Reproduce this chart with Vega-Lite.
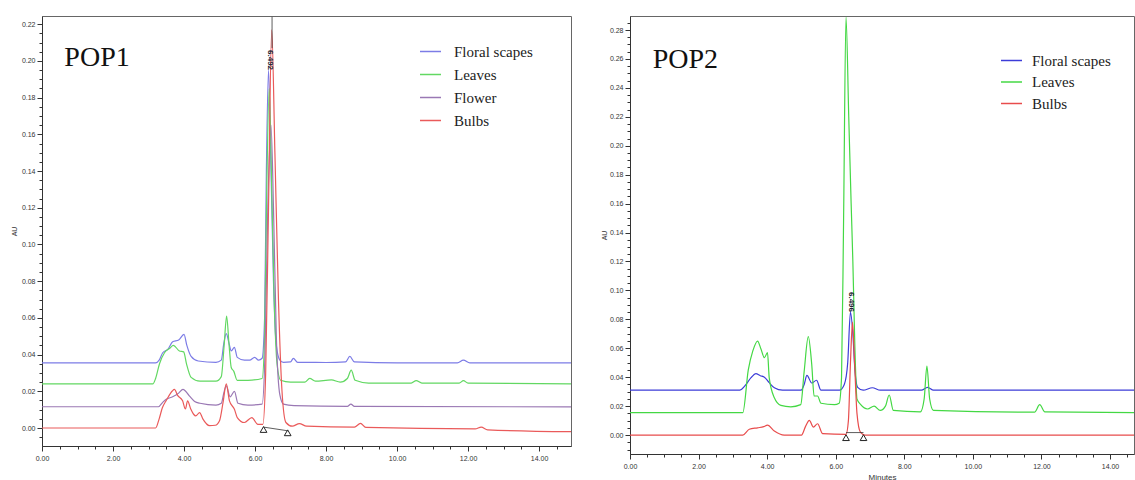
{
"$schema": "https://vega.github.io/schema/vega-lite/v6.json",
"padding": {"left": 9, "top": 15, "right": 0, "bottom": 0},
"spacing": 27,
"background": "white",
"config": {
  "view": {"stroke": "#666", "strokeWidth": 1},
  "font": "Liberation Sans",
  "axis": {"grid": false, "domainColor": "#333", "tickColor": "#333", "labelColor": "#333", "labelFontSize": 7, "labelFont": "Liberation Sans", "titleFont": "Liberation Sans", "titleFontSize": 7, "titleFontWeight": "normal", "titleColor": "#333", "labelOverlap": false, "labelBound": false, "labelFlush": false}
},
"datasets": {
  "pop1": [
    {"s":"Floral scapes","t":0,"a":0.0355},{"s":"Floral scapes","t":3.2,"a":0.0355},{"s":"Floral scapes","t":3.3,"a":0.037},{"s":"Floral scapes","t":3.4,"a":0.041},{"s":"Floral scapes","t":3.55,"a":0.043},{"s":"Floral scapes","t":3.68,"a":0.047},{"s":"Floral scapes","t":3.85,"a":0.048},{"s":"Floral scapes","t":4.0,"a":0.051},{"s":"Floral scapes","t":4.08,"a":0.045},{"s":"Floral scapes","t":4.2,"a":0.039},{"s":"Floral scapes","t":4.4,"a":0.0365},{"s":"Floral scapes","t":4.9,"a":0.0358},{"s":"Floral scapes","t":5.05,"a":0.037},{"s":"Floral scapes","t":5.12,"a":0.046},{"s":"Floral scapes","t":5.19,"a":0.0514},{"s":"Floral scapes","t":5.27,"a":0.046},{"s":"Floral scapes","t":5.33,"a":0.042},{"s":"Floral scapes","t":5.42,"a":0.044},{"s":"Floral scapes","t":5.5,"a":0.0385},{"s":"Floral scapes","t":5.7,"a":0.037},{"s":"Floral scapes","t":5.85,"a":0.037},{"s":"Floral scapes","t":5.99,"a":0.0385},{"s":"Floral scapes","t":6.1,"a":0.037},{"s":"Floral scapes","t":6.2,"a":0.038},{"s":"Floral scapes","t":6.27,"a":0.06},{"s":"Floral scapes","t":6.32,"a":0.14},{"s":"Floral scapes","t":6.38,"a":0.195},{"s":"Floral scapes","t":6.44,"a":0.15},{"s":"Floral scapes","t":6.52,"a":0.08},{"s":"Floral scapes","t":6.6,"a":0.045},{"s":"Floral scapes","t":6.7,"a":0.037},{"s":"Floral scapes","t":6.8,"a":0.0358},{"s":"Floral scapes","t":7.0,"a":0.036},{"s":"Floral scapes","t":7.08,"a":0.038},{"s":"Floral scapes","t":7.2,"a":0.0358},{"s":"Floral scapes","t":8.0,"a":0.0357},{"s":"Floral scapes","t":8.55,"a":0.036},{"s":"Floral scapes","t":8.67,"a":0.039},{"s":"Floral scapes","t":8.8,"a":0.036},{"s":"Floral scapes","t":10,"a":0.0355},{"s":"Floral scapes","t":11.7,"a":0.0355},{"s":"Floral scapes","t":11.87,"a":0.037},{"s":"Floral scapes","t":12.05,"a":0.0355},{"s":"Floral scapes","t":14.9,"a":0.0355},
    {"s":"Leaves","t":0,"a":0.024},{"s":"Leaves","t":3.12,"a":0.024},{"s":"Leaves","t":3.2,"a":0.027},{"s":"Leaves","t":3.31,"a":0.035},{"s":"Leaves","t":3.45,"a":0.041},{"s":"Leaves","t":3.6,"a":0.0435},{"s":"Leaves","t":3.7,"a":0.045},{"s":"Leaves","t":3.87,"a":0.042},{"s":"Leaves","t":3.99,"a":0.0415},{"s":"Leaves","t":4.07,"a":0.035},{"s":"Leaves","t":4.2,"a":0.0276},{"s":"Leaves","t":4.45,"a":0.0255},{"s":"Leaves","t":4.9,"a":0.0255},{"s":"Leaves","t":5.05,"a":0.028},{"s":"Leaves","t":5.13,"a":0.045},{"s":"Leaves","t":5.2,"a":0.061},{"s":"Leaves","t":5.27,"a":0.045},{"s":"Leaves","t":5.33,"a":0.033},{"s":"Leaves","t":5.4,"a":0.031},{"s":"Leaves","t":5.5,"a":0.026},{"s":"Leaves","t":5.8,"a":0.026},{"s":"Leaves","t":6.2,"a":0.027},{"s":"Leaves","t":6.27,"a":0.05},{"s":"Leaves","t":6.33,"a":0.13},{"s":"Leaves","t":6.4,"a":0.185},{"s":"Leaves","t":6.46,"a":0.14},{"s":"Leaves","t":6.54,"a":0.07},{"s":"Leaves","t":6.62,"a":0.035},{"s":"Leaves","t":6.72,"a":0.026},{"s":"Leaves","t":7.0,"a":0.025},{"s":"Leaves","t":7.4,"a":0.025},{"s":"Leaves","t":7.54,"a":0.027},{"s":"Leaves","t":7.7,"a":0.0255},{"s":"Leaves","t":8.15,"a":0.0262},{"s":"Leaves","t":8.4,"a":0.025},{"s":"Leaves","t":8.6,"a":0.027},{"s":"Leaves","t":8.71,"a":0.0315},{"s":"Leaves","t":8.82,"a":0.026},{"s":"Leaves","t":9.2,"a":0.0245},{"s":"Leaves","t":10.4,"a":0.0245},{"s":"Leaves","t":10.54,"a":0.0258},{"s":"Leaves","t":10.7,"a":0.0245},{"s":"Leaves","t":11.75,"a":0.0245},{"s":"Leaves","t":11.87,"a":0.0258},{"s":"Leaves","t":12.0,"a":0.0245},{"s":"Leaves","t":14.9,"a":0.024},
    {"s":"Flower","t":0,"a":0.0116},{"s":"Flower","t":3.28,"a":0.0116},{"s":"Flower","t":3.4,"a":0.014},{"s":"Flower","t":3.5,"a":0.0157},{"s":"Flower","t":3.68,"a":0.017},{"s":"Flower","t":3.85,"a":0.019},{"s":"Flower","t":3.97,"a":0.0211},{"s":"Flower","t":4.15,"a":0.0175},{"s":"Flower","t":4.3,"a":0.0145},{"s":"Flower","t":4.45,"a":0.0135},{"s":"Flower","t":4.9,"a":0.0125},{"s":"Flower","t":5.05,"a":0.0135},{"s":"Flower","t":5.12,"a":0.019},{"s":"Flower","t":5.19,"a":0.023},{"s":"Flower","t":5.3,"a":0.017},{"s":"Flower","t":5.42,"a":0.02},{"s":"Flower","t":5.52,"a":0.0135},{"s":"Flower","t":5.8,"a":0.0125},{"s":"Flower","t":6.2,"a":0.013},{"s":"Flower","t":6.28,"a":0.04},{"s":"Flower","t":6.36,"a":0.12},{"s":"Flower","t":6.45,"a":0.165},{"s":"Flower","t":6.52,"a":0.12},{"s":"Flower","t":6.6,"a":0.05},{"s":"Flower","t":6.7,"a":0.018},{"s":"Flower","t":6.8,"a":0.013},{"s":"Flower","t":7.1,"a":0.0122},{"s":"Flower","t":8.6,"a":0.0118},{"s":"Flower","t":8.7,"a":0.013},{"s":"Flower","t":8.8,"a":0.0118},{"s":"Flower","t":14.9,"a":0.0115},
    {"s":"Bulbs","t":0,"a":0},{"s":"Bulbs","t":3.2,"a":0},{"s":"Bulbs","t":3.3,"a":0.005},{"s":"Bulbs","t":3.39,"a":0.011},{"s":"Bulbs","t":3.5,"a":0.015},{"s":"Bulbs","t":3.67,"a":0.0202},{"s":"Bulbs","t":3.73,"a":0.021},{"s":"Bulbs","t":3.82,"a":0.0178},{"s":"Bulbs","t":3.96,"a":0.0148},{"s":"Bulbs","t":4.04,"a":0.0104},{"s":"Bulbs","t":4.1,"a":0.0148},{"s":"Bulbs","t":4.19,"a":0.0103},{"s":"Bulbs","t":4.27,"a":0.0075},{"s":"Bulbs","t":4.33,"a":0.0066},{"s":"Bulbs","t":4.44,"a":0.0084},{"s":"Bulbs","t":4.53,"a":0.005},{"s":"Bulbs","t":4.72,"a":0.0013},{"s":"Bulbs","t":4.88,"a":0.0015},{"s":"Bulbs","t":5.0,"a":0.004},{"s":"Bulbs","t":5.1,"a":0.014},{"s":"Bulbs","t":5.19,"a":0.024},{"s":"Bulbs","t":5.28,"a":0.0148},{"s":"Bulbs","t":5.42,"a":0.0102},{"s":"Bulbs","t":5.5,"a":0.0057},{"s":"Bulbs","t":5.7,"a":0.003},{"s":"Bulbs","t":5.91,"a":0.0057},{"s":"Bulbs","t":6.08,"a":0.002},{"s":"Bulbs","t":6.22,"a":0.002},{"s":"Bulbs","t":6.3,"a":0.03},{"s":"Bulbs","t":6.38,"a":0.12},{"s":"Bulbs","t":6.47,"a":0.217},{"s":"Bulbs","t":6.56,"a":0.15},{"s":"Bulbs","t":6.66,"a":0.07},{"s":"Bulbs","t":6.76,"a":0.02},{"s":"Bulbs","t":6.87,"a":0.003},{"s":"Bulbs","t":7.05,"a":0.001},{"s":"Bulbs","t":7.25,"a":0.0024},{"s":"Bulbs","t":7.45,"a":0.001},{"s":"Bulbs","t":8.8,"a":0.0005},{"s":"Bulbs","t":8.97,"a":0.0025},{"s":"Bulbs","t":9.12,"a":0.0003},{"s":"Bulbs","t":12.2,"a":-0.0005},{"s":"Bulbs","t":12.37,"a":0.0005},{"s":"Bulbs","t":12.55,"a":-0.001},{"s":"Bulbs","t":14.9,"a":-0.002}
  ],
  "pop2": [
    {"s":"Floral scapes","t":0,"a":0.031},{"s":"Floral scapes","t":3.2,"a":0.031},{"s":"Floral scapes","t":3.35,"a":0.034},{"s":"Floral scapes","t":3.53,"a":0.0397},{"s":"Floral scapes","t":3.67,"a":0.0424},{"s":"Floral scapes","t":3.8,"a":0.041},{"s":"Floral scapes","t":3.92,"a":0.04},{"s":"Floral scapes","t":4.06,"a":0.0362},{"s":"Floral scapes","t":4.21,"a":0.0327},{"s":"Floral scapes","t":4.45,"a":0.031},{"s":"Floral scapes","t":4.99,"a":0.031},{"s":"Floral scapes","t":5.08,"a":0.035},{"s":"Floral scapes","t":5.16,"a":0.0413},{"s":"Floral scapes","t":5.3,"a":0.036},{"s":"Floral scapes","t":5.44,"a":0.0379},{"s":"Floral scapes","t":5.57,"a":0.031},{"s":"Floral scapes","t":6.11,"a":0.031},{"s":"Floral scapes","t":6.25,"a":0.035},{"s":"Floral scapes","t":6.35,"a":0.05},{"s":"Floral scapes","t":6.43,"a":0.085},{"s":"Floral scapes","t":6.5,"a":0.07},{"s":"Floral scapes","t":6.56,"a":0.045},{"s":"Floral scapes","t":6.64,"a":0.033},{"s":"Floral scapes","t":6.8,"a":0.031},{"s":"Floral scapes","t":7.07,"a":0.0327},{"s":"Floral scapes","t":7.3,"a":0.031},{"s":"Floral scapes","t":8.5,"a":0.031},{"s":"Floral scapes","t":8.68,"a":0.033},{"s":"Floral scapes","t":8.85,"a":0.031},{"s":"Floral scapes","t":14.7,"a":0.031},
    {"s":"Leaves","t":0,"a":0.0155},{"s":"Leaves","t":3.29,"a":0.0155},{"s":"Leaves","t":3.45,"a":0.045},{"s":"Leaves","t":3.58,"a":0.058},{"s":"Leaves","t":3.72,"a":0.065},{"s":"Leaves","t":3.82,"a":0.0595},{"s":"Leaves","t":3.92,"a":0.0535},{"s":"Leaves","t":4.01,"a":0.057},{"s":"Leaves","t":4.06,"a":0.0397},{"s":"Leaves","t":4.21,"a":0.0258},{"s":"Leaves","t":4.4,"a":0.0205},{"s":"Leaves","t":4.69,"a":0.0195},{"s":"Leaves","t":4.98,"a":0.021},{"s":"Leaves","t":5.08,"a":0.044},{"s":"Leaves","t":5.2,"a":0.068},{"s":"Leaves","t":5.3,"a":0.049},{"s":"Leaves","t":5.37,"a":0.027},{"s":"Leaves","t":5.47,"a":0.027},{"s":"Leaves","t":5.57,"a":0.022},{"s":"Leaves","t":5.96,"a":0.021},{"s":"Leaves","t":6.1,"a":0.022},{"s":"Leaves","t":6.17,"a":0.04},{"s":"Leaves","t":6.23,"a":0.15},{"s":"Leaves","t":6.3,"a":0.289},{"s":"Leaves","t":6.38,"a":0.22},{"s":"Leaves","t":6.45,"a":0.16},{"s":"Leaves","t":6.5,"a":0.12},{"s":"Leaves","t":6.56,"a":0.06},{"s":"Leaves","t":6.62,"a":0.025},{"s":"Leaves","t":6.73,"a":0.021},{"s":"Leaves","t":6.93,"a":0.018},{"s":"Leaves","t":7.12,"a":0.02},{"s":"Leaves","t":7.3,"a":0.017},{"s":"Leaves","t":7.45,"a":0.02},{"s":"Leaves","t":7.56,"a":0.0277},{"s":"Leaves","t":7.68,"a":0.017},{"s":"Leaves","t":8.47,"a":0.016},{"s":"Leaves","t":8.58,"a":0.025},{"s":"Leaves","t":8.66,"a":0.0477},{"s":"Leaves","t":8.74,"a":0.025},{"s":"Leaves","t":8.85,"a":0.017},{"s":"Leaves","t":11.8,"a":0.0158},{"s":"Leaves","t":11.95,"a":0.021},{"s":"Leaves","t":12.1,"a":0.016},{"s":"Leaves","t":14.7,"a":0.0155},
    {"s":"Bulbs","t":0,"a":0},{"s":"Bulbs","t":3.29,"a":0},{"s":"Bulbs","t":3.48,"a":0.004},{"s":"Bulbs","t":3.72,"a":0.005},{"s":"Bulbs","t":3.9,"a":0.0058},{"s":"Bulbs","t":4.01,"a":0.0069},{"s":"Bulbs","t":4.21,"a":0.0028},{"s":"Bulbs","t":4.5,"a":0},{"s":"Bulbs","t":5.0,"a":0},{"s":"Bulbs","t":5.12,"a":0.006},{"s":"Bulbs","t":5.23,"a":0.0102},{"s":"Bulbs","t":5.35,"a":0.0055},{"s":"Bulbs","t":5.47,"a":0.0078},{"s":"Bulbs","t":5.62,"a":0.001},{"s":"Bulbs","t":6.3,"a":0.0005},{"s":"Bulbs","t":6.37,"a":0.01},{"s":"Bulbs","t":6.43,"a":0.05},{"s":"Bulbs","t":6.49,"a":0.078},{"s":"Bulbs","t":6.55,"a":0.05},{"s":"Bulbs","t":6.62,"a":0.015},{"s":"Bulbs","t":6.72,"a":0.002},{"s":"Bulbs","t":6.85,"a":0},{"s":"Bulbs","t":14.7,"a":0}
  ]
},
"resolve": {"scale": {"color": "independent"}},
"hconcat": [
  {
    "width": 529, "height": 430,
    "encoding": {
      "x": {"type": "quantitative", "scale": {"domain": [0, 14.9], "nice": false, "zero": false},
        "axis": {"title": null, "values": [0,0.5,1,1.5,2,2.5,3,3.5,4,4.5,5,5.5,6,6.5,7,7.5,8,8.5,9,9.5,10,10.5,11,11.5,12,12.5,13,13.5,14,14.5],
          "labelExpr": "datum.value % 2 == 0 ? format(datum.value, '.2f') : ''",
          "tickSize": {"condition": {"test": "datum.value % 2 == 0", "value": 5}, "value": 3}, "labelPadding": 3}},
      "y": {"type": "quantitative", "scale": {"domain": [-0.0098, 0.2245], "nice": false, "zero": false},
        "axis": {"title": "AU", "titlePadding": 4, "values": [-0.005,0,0.005,0.01,0.015,0.02,0.025,0.03,0.035,0.04,0.045,0.05,0.055,0.06,0.065,0.07,0.075,0.08,0.085,0.09,0.095,0.1,0.105,0.11,0.115,0.12,0.125,0.13,0.135,0.14,0.145,0.15,0.155,0.16,0.165,0.17,0.175,0.18,0.185,0.19,0.195,0.2,0.205,0.21,0.215,0.22],
          "labelExpr": "abs(datum.value*50 - round(datum.value*50)) < 0.01 ? format(datum.value, '.2f') : ''",
          "tickSize": {"condition": {"test": "abs(datum.value*50 - round(datum.value*50)) < 0.01", "value": 5}, "value": 3}, "labelPadding": 2}}
    },
    "layer": [
      {"data": {"name": "pop1"}, "mark": {"type": "line", "strokeWidth": 1.2, "interpolate": "monotone", "clip": true},
       "encoding": {"x": {"field": "t", "type": "quantitative"}, "y": {"field": "a", "type": "quantitative"},
         "color": {"field": "s", "type": "nominal", "scale": {"domain": ["Floral scapes", "Leaves", "Flower", "Bulbs"], "range": ["#7c7ce6", "#62d862", "#9a78b4", "#ea5a5a"]},
           "legend": {"orient": "none", "legendX": 377, "legendY": 24, "title": null, "symbolType": "stroke", "symbolSize": 441, "symbolStrokeWidth": 1.5, "labelFont": "Liberation Serif", "labelFontSize": 15, "labelColor": "#222", "labelOffset": 12, "rowPadding": 3, "padding": 0}}}},
      {"data": {"values": [{"t": 6.24, "a": 0.0005, "t2": 6.92, "a2": -0.0015}]}, "mark": {"type": "rule", "color": "#333", "strokeWidth": 0.8},
       "encoding": {"x": {"field": "t", "type": "quantitative"}, "y": {"field": "a", "type": "quantitative"}, "x2": {"field": "t2"}, "y2": {"field": "a2"}}},
      {"data": {"values": [{"t": 6.48, "a": 0.207, "a2": 0.224}]}, "mark": {"type": "rule", "color": "#333", "strokeWidth": 0.8},
       "encoding": {"x": {"field": "t", "type": "quantitative"}, "y": {"field": "a", "type": "quantitative"}, "y2": {"field": "a2"}}},
      {"data": {"values": [{"t": 6.24, "a": -0.0008}, {"t": 6.92, "a": -0.0026}]}, "mark": {"type": "point", "shape": "triangle-up", "filled": false, "stroke": "#222", "strokeWidth": 1, "size": 45, "opacity": 1},
       "encoding": {"x": {"field": "t", "type": "quantitative"}, "y": {"field": "a", "type": "quantitative"}}},
      {"data": {"values": [{"t": 6.41, "a": 0.2005, "label": "6.492"}]}, "mark": {"type": "text", "angle": 90, "fontSize": 8, "fontWeight": "bold", "color": "#223", "align": "center", "baseline": "middle"},
       "encoding": {"x": {"field": "t", "type": "quantitative"}, "y": {"field": "a", "type": "quantitative"}, "text": {"field": "label"}}},
      {"data": {"values": [{"t": 0.63, "a": 0.197, "label": "POP1"}]}, "mark": {"type": "text", "font": "Liberation Serif", "fontSize": 28, "color": "#111", "align": "left", "baseline": "alphabetic"},
       "encoding": {"x": {"field": "t", "type": "quantitative"}, "y": {"field": "a", "type": "quantitative"}, "text": {"field": "label"}}}
    ]
  },
  {
    "width": 504, "height": 438,
    "encoding": {
      "x": {"type": "quantitative", "scale": {"domain": [0, 14.7], "nice": false, "zero": false},
        "axis": {"title": "Minutes", "titleFontSize": 8, "titlePadding": 4, "values": [0,0.5,1,1.5,2,2.5,3,3.5,4,4.5,5,5.5,6,6.5,7,7.5,8,8.5,9,9.5,10,10.5,11,11.5,12,12.5,13,13.5,14,14.5],
          "labelExpr": "datum.value % 2 == 0 ? format(datum.value, '.2f') : ''",
          "tickSize": {"condition": {"test": "datum.value % 2 == 0", "value": 5}, "value": 3}, "labelPadding": 3}},
      "y": {"type": "quantitative", "scale": {"domain": [-0.0131, 0.2897], "nice": false, "zero": false},
        "axis": {"title": "AU", "titlePadding": 2, "values": [-0.01,-0.005,0,0.005,0.01,0.015,0.02,0.025,0.03,0.035,0.04,0.045,0.05,0.055,0.06,0.065,0.07,0.075,0.08,0.085,0.09,0.095,0.1,0.105,0.11,0.115,0.12,0.125,0.13,0.135,0.14,0.145,0.15,0.155,0.16,0.165,0.17,0.175,0.18,0.185,0.19,0.195,0.2,0.205,0.21,0.215,0.22,0.225,0.23,0.235,0.24,0.245,0.25,0.255,0.26,0.265,0.27,0.275,0.28,0.285],
          "labelExpr": "abs(datum.value*50 - round(datum.value*50)) < 0.01 ? format(datum.value, '.2f') : ''",
          "tickSize": {"condition": {"test": "abs(datum.value*50 - round(datum.value*50)) < 0.01", "value": 5}, "value": 3}, "labelPadding": 2}}
    },
    "layer": [
      {"data": {"name": "pop2"}, "mark": {"type": "line", "strokeWidth": 1.2, "interpolate": "monotone", "clip": true},
       "encoding": {"x": {"field": "t", "type": "quantitative"}, "y": {"field": "a", "type": "quantitative"},
         "color": {"field": "s", "type": "nominal", "scale": {"domain": ["Floral scapes", "Leaves", "Bulbs"], "range": ["#3c3cd8", "#44d844", "#e84c4c"]},
           "legend": {"orient": "none", "legendX": 370, "legendY": 33, "title": null, "symbolType": "stroke", "symbolSize": 441, "symbolStrokeWidth": 1.5, "labelFont": "Liberation Serif", "labelFontSize": 15, "labelColor": "#222", "labelOffset": 9, "rowPadding": 1.5, "padding": 0}}}},
      {"data": {"values": [{"t": 6.3, "a": 0.0017, "t2": 6.81, "a2": 0.0017}]}, "mark": {"type": "rule", "color": "#333", "strokeWidth": 0.8},
       "encoding": {"x": {"field": "t", "type": "quantitative"}, "y": {"field": "a", "type": "quantitative"}, "x2": {"field": "t2"}, "y2": {"field": "a2"}}},
      {"data": {"values": [{"t": 6.3, "a": -0.0018}, {"t": 6.81, "a": -0.0018}]}, "mark": {"type": "point", "shape": "triangle-up", "filled": false, "stroke": "#222", "strokeWidth": 1, "size": 45, "opacity": 1},
       "encoding": {"x": {"field": "t", "type": "quantitative"}, "y": {"field": "a", "type": "quantitative"}}},
      {"data": {"values": [{"t": 6.44, "a": 0.092, "label": "6.496"}]}, "mark": {"type": "text", "angle": 90, "fontSize": 8, "fontWeight": "bold", "color": "#223", "align": "center", "baseline": "middle"},
       "encoding": {"x": {"field": "t", "type": "quantitative"}, "y": {"field": "a", "type": "quantitative"}, "text": {"field": "label"}}},
      {"data": {"values": [{"t": 0.66, "a": 0.254, "label": "POP2"}]}, "mark": {"type": "text", "font": "Liberation Serif", "fontSize": 28, "color": "#111", "align": "left", "baseline": "alphabetic"},
       "encoding": {"x": {"field": "t", "type": "quantitative"}, "y": {"field": "a", "type": "quantitative"}, "text": {"field": "label"}}}
    ]
  }
]
}
